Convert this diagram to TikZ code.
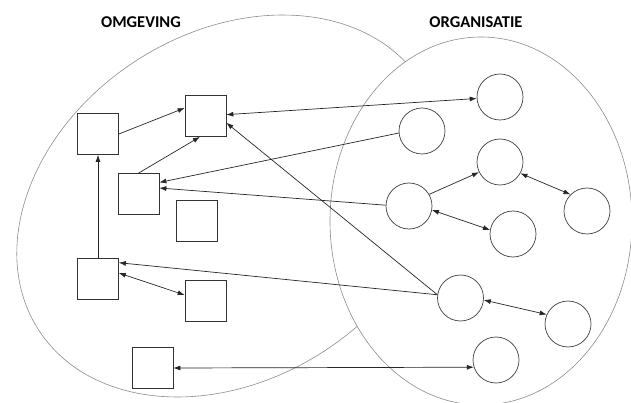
\documentclass[tikz,border=0pt]{standalone}
\usepackage{fontspec}
\setmainfont{Carlito}
\usepackage{tikz}
\usetikzlibrary{arrows.meta}

\begin{document}
\begin{tikzpicture}[x=1pt,y=-1pt]
\tikzstyle{blok}=[rectangle, draw=black!80, line width=0.7pt, minimum size=41pt, inner sep=0pt]
\tikzstyle{rond}=[circle, draw=black!75, line width=0.7pt, minimum size=46pt, inner sep=0pt]
\tikzstyle{titel}=[font=\fontsize{16.5}{20}\selectfont\bfseries, inner sep=0pt]
\tikzstyle{pijl}=[draw=black!85, line width=0.7pt, -{Latex[length=7pt,width=5pt]}]
\tikzstyle{pijlen}=[draw=black!85, line width=0.7pt, {Latex[length=7pt,width=5pt]}-{Latex[length=7pt,width=5pt]}]
\useasboundingbox (0,0) rectangle (631,403);

% omgeving en organisatie
\draw[black!45, line width=0.6pt, rotate around={33:(230,206)}] (230,206) ellipse [x radius=228, y radius=173];
\draw[black!45, line width=0.6pt, fill=white] (481,221) ellipse [x radius=151, y radius=184];

\node[titel] (omg) at (141,22) {OMGEVING};
\node[titel] (org) at (476,22) {ORGANISATIE};

\node[blok] (a1) at (98,134) {};
\node[blok] (a2) at (205.5,116) {};
\node[blok] (a3) at (138.5,194) {};
\node[blok] (a4) at (197,221) {};
\node[blok] (a5) at (98,279) {};
\node[blok] (a6) at (205.5,301) {};
\node[blok] (a7) at (152.5,368) {};

\node[rond] (b1) at (500,97) {};
\node[rond] (b2) at (422,131) {};
\node[rond] (b3) at (500,162) {};
\node[rond] (b4) at (409,206) {};
\node[rond] (b5) at (513,234) {};
\node[rond] (b6) at (587,211) {};
\node[rond] (b7) at (460.5,298) {};
\node[rond] (b8) at (568,324) {};
\node[rond] (b9) at (496,360) {};

\path
(a1.east) edge[pijl] (a2.159)
(a3.north) edge[pijl] (a2.255)
(a5) edge[pijl] (a1)
(a5.16) edge[pijlen] (a6.164)
(a7.east) edge[pijlen] (b9.198)
(b1) edge[pijlen] (a2)
(b2.185) edge[pijl] (a3.29)
(b4.178) edge[pijl] (a3.16)
(b7.172) edge[pijl] (a2.-18)
    edge[pijl] (a5.38)
(b4.30) edge[pijl] (b3.206)
(b4.-10) edge[pijlen] (b5.170)
(b3.-29) edge[pijlen] (b6.135)
(b7.-5) edge[pijlen] (b8.156);

\end{tikzpicture}
\end{document}
